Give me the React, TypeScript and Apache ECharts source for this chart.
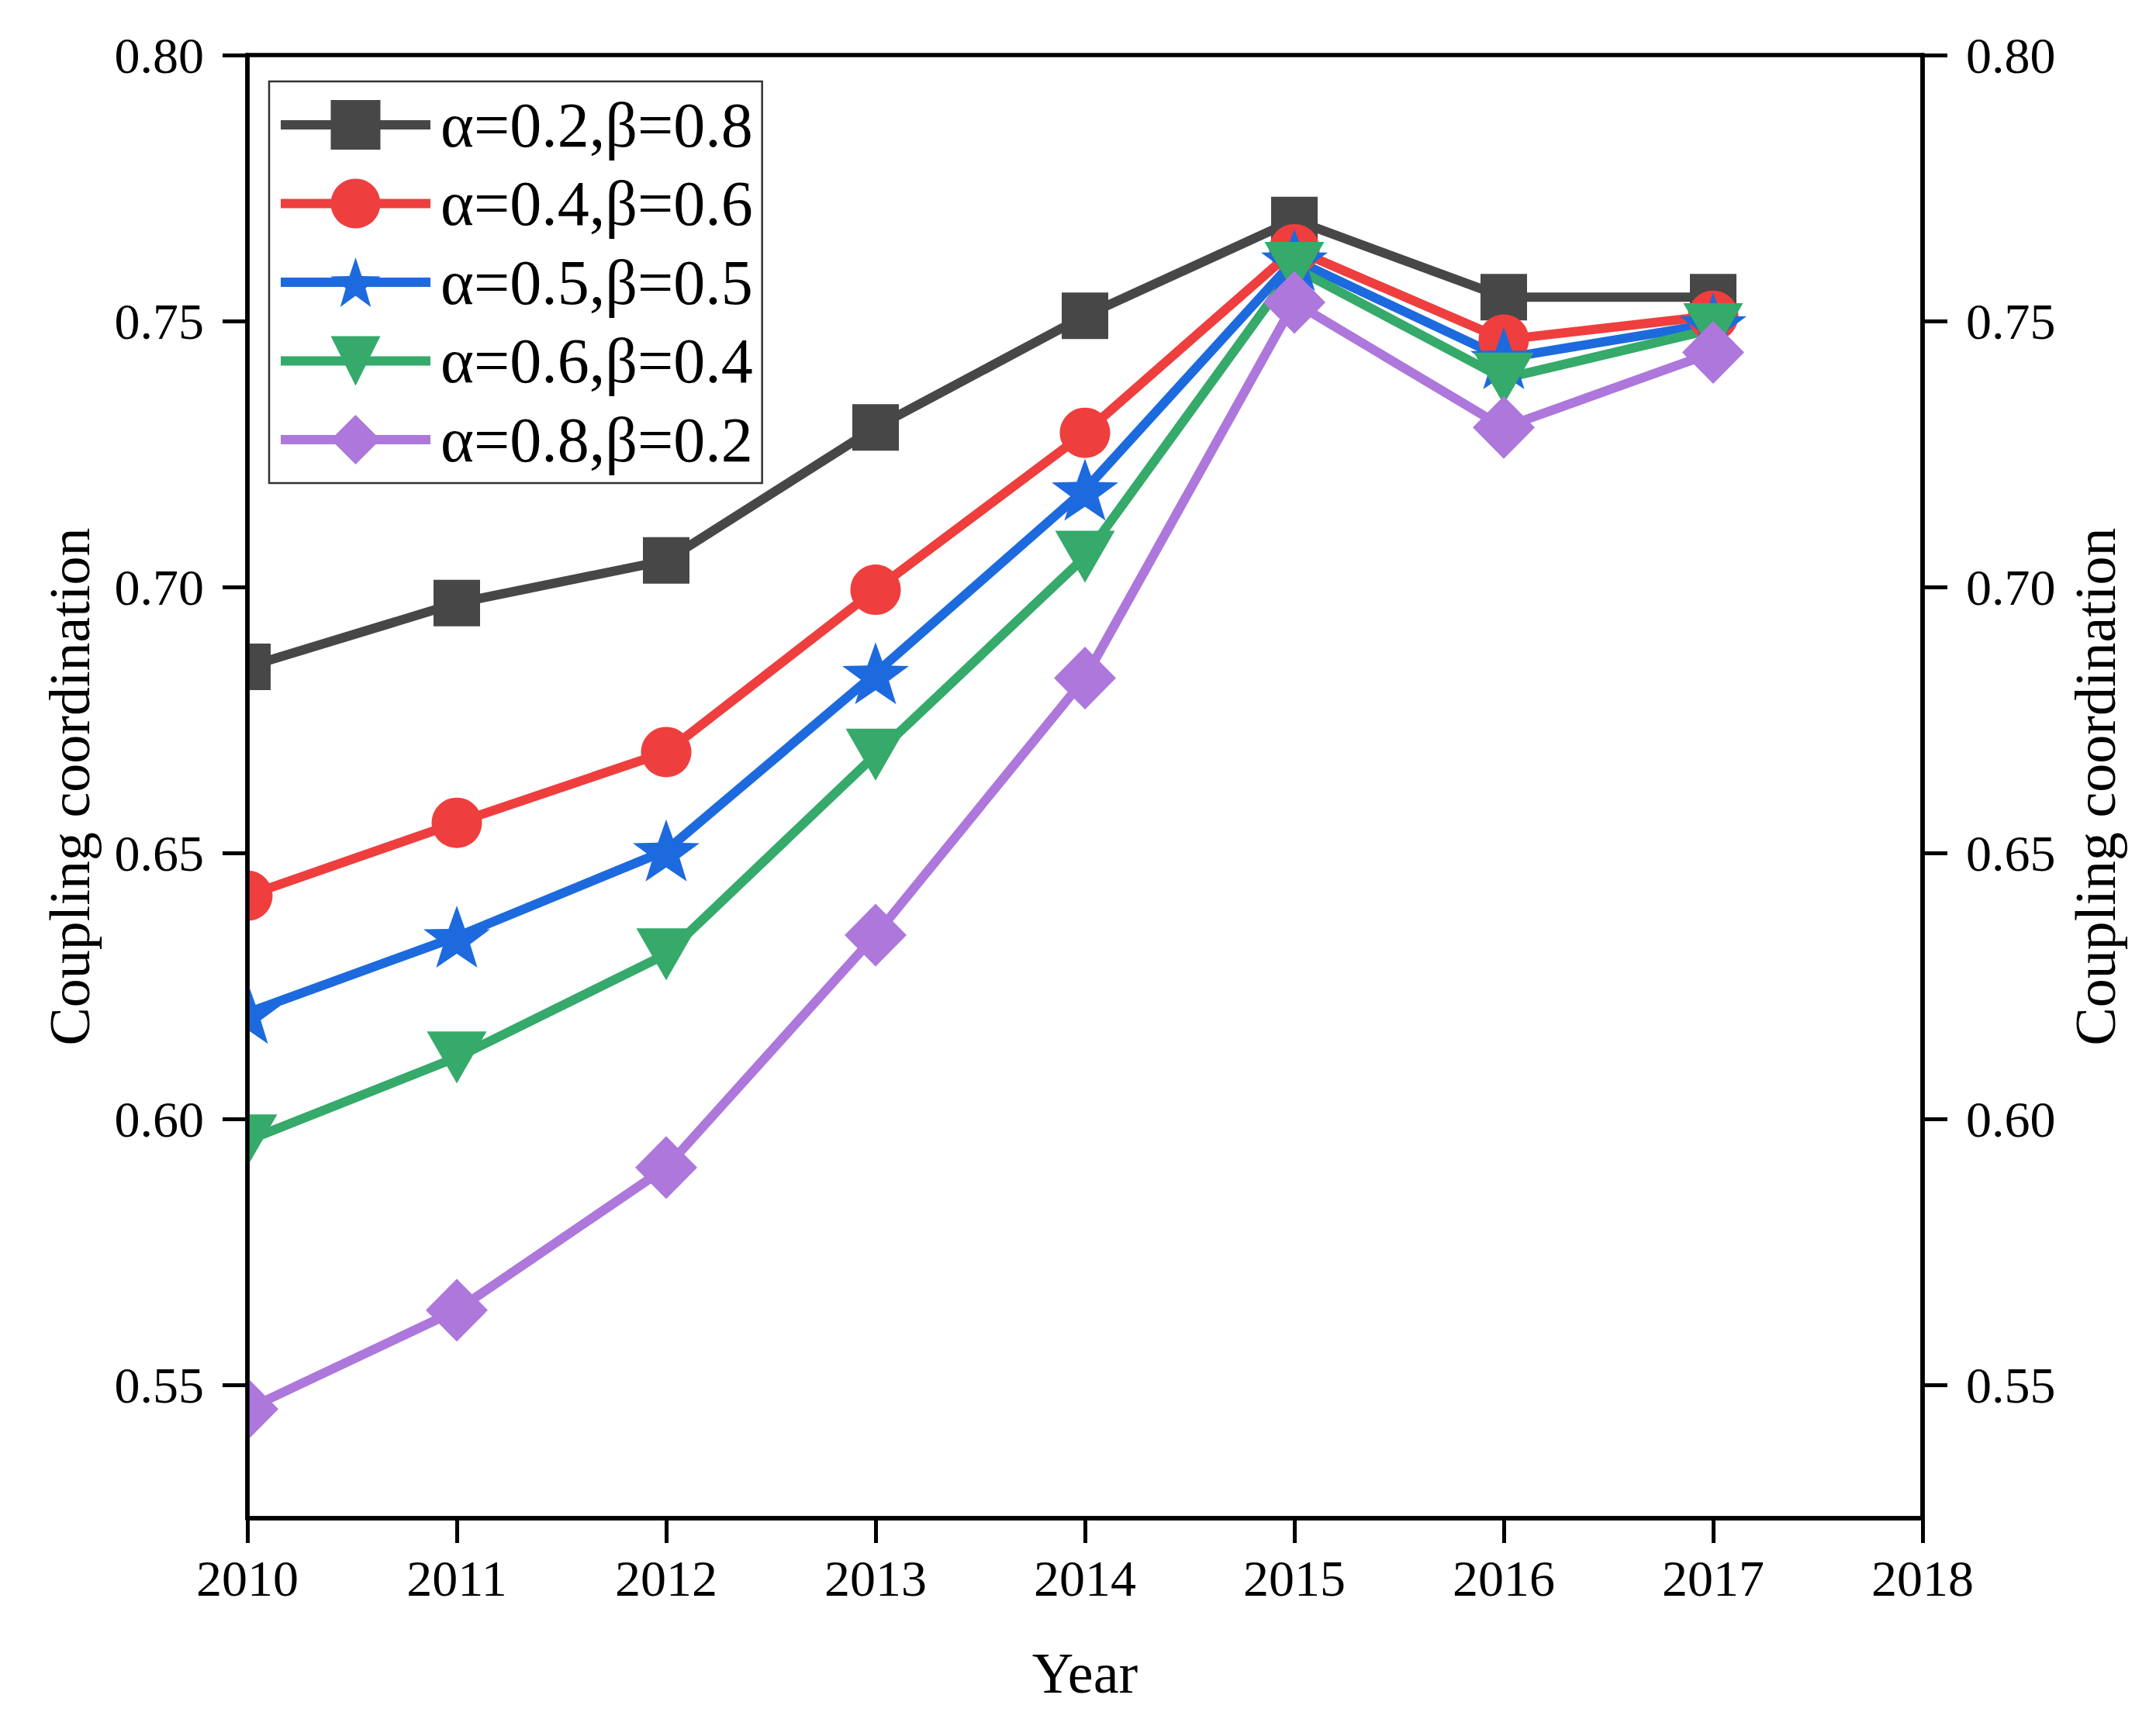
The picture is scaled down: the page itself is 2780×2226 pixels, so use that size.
import { useEffect, useRef } from 'react';
import * as echarts from 'echarts';

const YEARS = [2010, 2011, 2012, 2013, 2014, 2015, 2016, 2017];
const Y_TICKS = [0.55, 0.6, 0.65, 0.7, 0.75, 0.8];

const NAMES = ['α=0.2,β=0.8', 'α=0.4,β=0.6', 'α=0.5,β=0.5', 'α=0.6,β=0.4', 'α=0.8,β=0.2'];
const S1 = [0.685, 0.697, 0.705, 0.730, 0.751, 0.769, 0.7545, 0.7545];
const S2 = [0.642, 0.6557, 0.669, 0.6995, 0.729, 0.7635, 0.7465, 0.751];
const S3 = [0.620, 0.6343, 0.6505, 0.6838, 0.7183, 0.7615, 0.743, 0.7495];
const S4 = [0.596, 0.6116, 0.631, 0.6685, 0.7057, 0.7600, 0.7392, 0.7485];
const S5 = [0.5455, 0.5641, 0.5909, 0.6346, 0.6829, 0.7535, 0.730, 0.7441];

const COLORS = ['#474747', '#ef3e3e', '#1c6ade', '#35aa6a', '#ad77dc'];

const STAR = 'path://M50,0L61.76,33.82L97.55,34.55L69.02,56.18L79.39,90.45L50,70L20.61,90.45L30.98,56.18L2.45,34.55L38.24,33.82Z';
const TRI_DOWN = 'path://M0,0L100,0L50,87Z';
const SYMBOLS = ['rect', 'circle', STAR, TRI_DOWN, 'diamond'];
const SIZES: (number | number[])[] = [60, 65, [86, 80], [77, 67], [80, 81]];

const FONT = '"Liberation Serif", "Times New Roman", serif';

export default function App() {
  const ref = useRef<HTMLDivElement>(null);

  useEffect(() => {
    document.body.style.margin = '0';
    if (!ref.current) return;
    const chart = echarts.init(ref.current, undefined, { renderer: 'svg' });
    const all = [S1, S2, S3, S4, S5];

    const yAxisBase = (position: 'left' | 'right', gap: number) => ({
      type: 'value',
      position,
      min: 0.525,
      max: 0.8,
      z: 5,
      name: 'Coupling coordination',
      nameLocation: 'middle',
      nameRotate: 90,
      nameGap: gap,
      nameTextStyle: { fontFamily: FONT, fontSize: 74, color: '#000' },
      axisLine: { show: true, lineStyle: { color: '#000', width: 5.5 } },
      axisTick: { show: true, length: 32, lineStyle: { color: '#000', width: 5 }, customValues: Y_TICKS },
      axisLabel: {
        fontFamily: FONT, fontSize: 66, color: '#000', margin: 56,
        customValues: Y_TICKS,
        formatter: (v: number) => v.toFixed(2),
      },
      splitLine: { show: false },
    });

    chart.setOption({
      animation: false,
      backgroundColor: '#fff',
      grid: {
        left: 319, right: 301, top: 71, bottom: 268,
        show: true, borderColor: '#000', borderWidth: 5.5,
      },
      legend: {
        orient: 'vertical',
        left: 347, top: 105,
        padding: [15, 12, 15, 9],
        itemWidth: 193, itemHeight: 80, itemGap: 19.5,
        borderColor: '#333', borderWidth: 2.5, backgroundColor: '#fff',
        lineStyle: { width: 12 },
        textStyle: { fontFamily: FONT, fontSize: 82, color: '#000', padding: [0, 0, 0, 8] },
        data: NAMES,
      },
      xAxis: {
        type: 'value',
        min: 2010, max: 2018, interval: 1,
        z: 5,
        name: 'Year',
        nameLocation: 'middle',
        nameGap: 163,
        nameTextStyle: { fontFamily: FONT, fontSize: 74, color: '#000' },
        axisLine: { show: true, lineStyle: { color: '#000', width: 5.5 } },
        axisTick: { show: true, length: 32, lineStyle: { color: '#000', width: 5 } },
        axisLabel: { fontFamily: FONT, fontSize: 66, color: '#000', margin: 44, formatter: (v: number) => String(v) },
        splitLine: { show: false },
      },
      yAxis: [yAxisBase('left', 192), yAxisBase('right', 186)],
      graphic: [
        {
          type: 'rect', z: 3, silent: true,
          shape: { x: 0, y: 0, width: 316, height: 2226 },
          style: { fill: '#fff' },
        },
      ],
      series: all.map((vals, i) => ({
        name: NAMES[i],
        type: 'line',
        yAxisIndex: 0,
        data: YEARS.map((y, j) => [y, vals[j]]),
        symbol: SYMBOLS[i],
        symbolSize: SIZES[i],
        color: COLORS[i],
        lineStyle: { width: 12, color: COLORS[i] },
        itemStyle: { color: COLORS[i] },
        z: 2,
      })),
    });

    return () => chart.dispose();
  }, []);

  return <div ref={ref} style={{ width: 2780, height: 2226 }} />;
}
